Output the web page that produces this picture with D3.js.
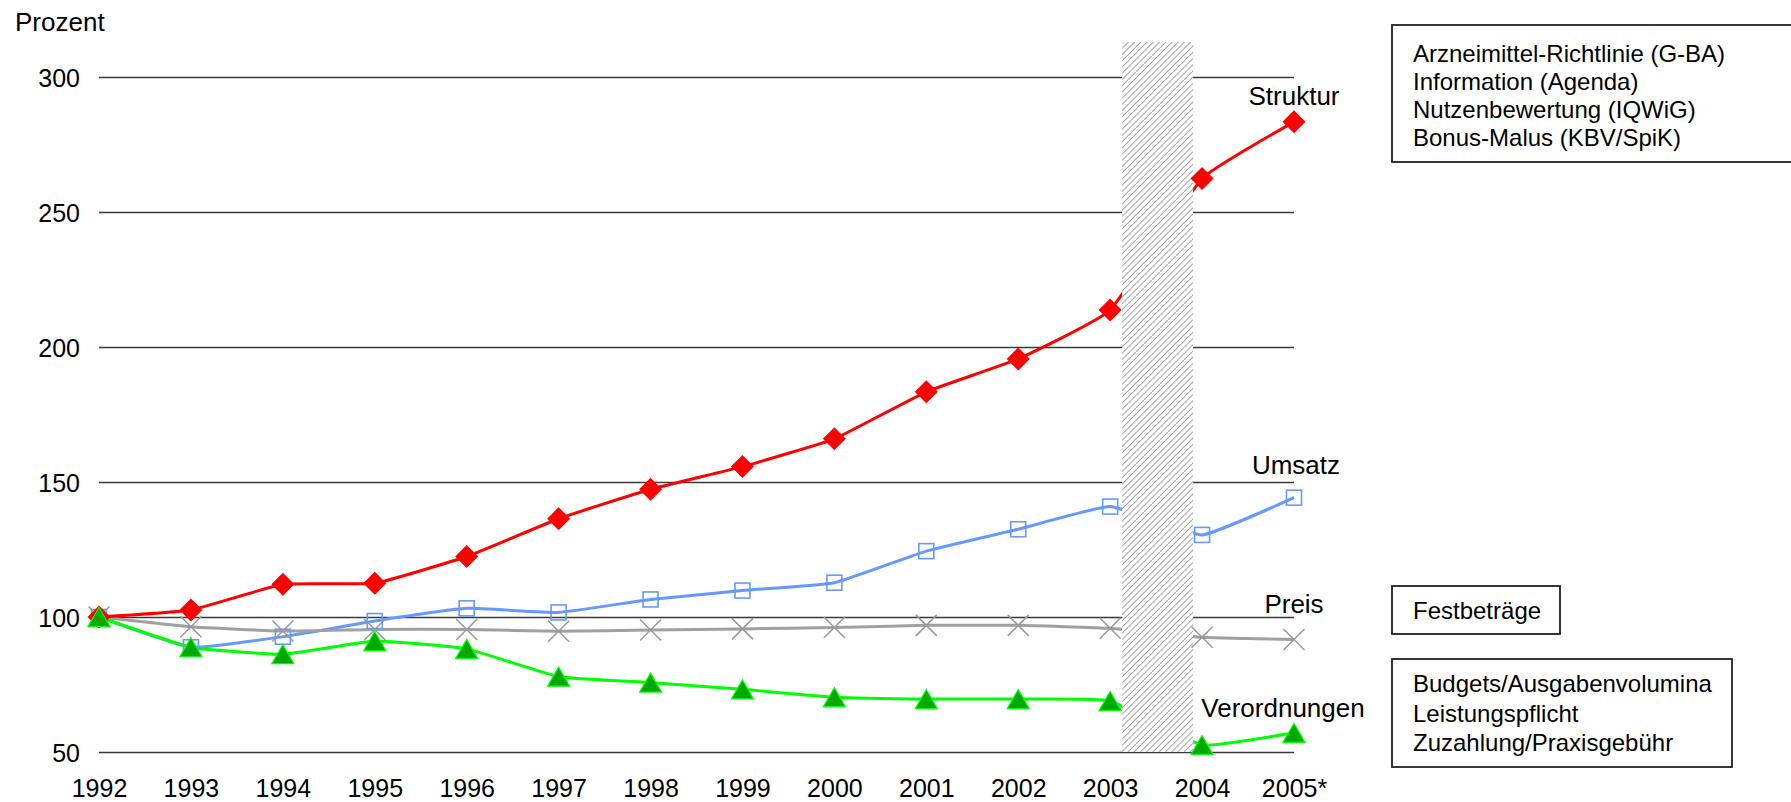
<!DOCTYPE html>
<html>
<head>
<meta charset="utf-8">
<script src="https://cdn.jsdelivr.net/npm/d3@7/dist/d3.min.js"></script>
<style>
  html, body { margin: 0; padding: 0; background: #fff; }
  svg { display: block; font-family: "Liberation Sans", Arial, sans-serif; }
</style>
</head>
<body>
<svg id="chart" width="1791" height="802"></svg>
<script>
// ---- data ----
const years = ["1992","1993","1994","1995","1996","1997","1998","1999","2000","2001","2002","2003","2004","2005*"];
const struktur     = [100, 102.6, 112.1, 112.5, 122.4, 136.4, 147.3, 155.7, 166.0, 183.4, 195.6, 213.7, 262.4, 283.4];
const umsatz       = [100, 88.8, 92.7, 98.5, 103.2, 101.7, 106.5, 109.8, 112.7, 124.4, 132.5, 140.9, 130.4, 144.2];
const preis        = [100, 96.4, 94.8, 95.4, 95.4, 94.7, 95.2, 95.6, 96.1, 96.9, 96.9, 95.8, 92.5, 91.7];
const verordnungen = [100, 88.8, 86.2, 91.1, 88.2, 77.9, 75.7, 73.2, 70.3, 69.6, 69.6, 68.9, 52.6, 57.1];
const yTicks = [50, 100, 150, 200, 250, 300];
const seriesNames = ["Struktur", "Umsatz", "Preis", "Verordnungen"];
const legendTop = ["Arzneimittel-Richtlinie (G-BA)", "Information (Agenda)", "Nutzenbewertung (IQWiG)", "Bonus-Malus (KBV/SpiK)"];
const legendMid = ["Festbeträge"];
const legendBottom = ["Budgets/Ausgabenvolumina", "Leistungspflicht", "Zuzahlung/Praxisgebühr"];
const yAxisTitle = "Prozent";
const shadedFrom = "2003", shadedTo = "2004";

// ---- layout ----
const svg = d3.select("#chart");
const X0 = 99, X1 = 1294, Y0 = 752, Y1 = 77;
const x = d3.scalePoint().domain(years).range([X0, X1]);
const y = d3.scaleLinear().domain([50, 300]).range([Y0, Y1]);

// hatch pattern
const defs = svg.append("defs");
const pat = defs.append("pattern").attr("id", "hatch")
  .attr("patternUnits", "userSpaceOnUse").attr("width", 4.4).attr("height", 4.4)
  .attr("patternTransform", "rotate(45)");
pat.append("rect").attr("width", 4.4).attr("height", 4.4).attr("fill", "#fff");
pat.append("line").attr("x1", 0).attr("y1", 0).attr("x2", 0).attr("y2", 4.4)
  .attr("stroke", "#a0a0a0").attr("stroke-width", 2);

// gridlines + y labels
const gy = svg.append("g").attr("transform", `translate(${X0},0)`)
  .call(d3.axisLeft(y).tickValues(yTicks).tickSize(-(X1 - X0)).tickPadding(19));
gy.select(".domain").remove();
gy.selectAll(".tick line").attr("stroke", "#3a3a3a").attr("stroke-width", 1.6);
gy.selectAll(".tick text").attr("font-size", 25).attr("fill", "#000")
  .attr("font-family", "Liberation Sans, Arial, sans-serif").attr("dy", "0.36em");

// x labels
const gx = svg.append("g").attr("transform", `translate(0,${Y0})`)
  .call(d3.axisBottom(x).tickSize(0).tickPadding(0));
gx.select(".domain").remove();
gx.selectAll(".tick text").attr("font-size", 25).attr("fill", "#000")
  .attr("font-family", "Liberation Sans, Arial, sans-serif").attr("y", 45).attr("dy", 0);

// y title
svg.append("text").attr("x", 15).attr("y", 31).attr("font-size", 26).text(yAxisTitle);

// series
const curve = d3.curveCardinal.tension(0.65);
const line = d3.line().x((d, i) => x(years[i])).y(d => y(d)).curve(curve);
const defsSeries = [
  { name: "Umsatz", data: umsatz, color: "#6699ff" },
  { name: "Preis", data: preis, color: "#a0a0a0" },
  { name: "Struktur", data: struktur, color: "#ff0000" },
  { name: "Verordnungen", data: verordnungen, color: "#00ff00" }
];
defsSeries.forEach(s => {
  svg.append("path").attr("d", line(s.data)).attr("fill", "none")
    .attr("stroke", s.color).attr("stroke-width", 3).attr("stroke-linejoin", "round");
});

// hatched area
const hx0 = x(shadedFrom) + 12, hx1 = x(shadedTo) - 9;
svg.append("rect").attr("x", hx0).attr("y", 42).attr("width", hx1 - hx0).attr("height", Y0 - 42)
  .attr("fill", "url(#hatch)");

// markers
const gm = svg.append("g");
// Umsatz squares
gm.selectAll(".sq").data(umsatz).join("rect")
  .attr("x", (d, i) => x(years[i]) - 7.5).attr("y", d => y(d) - 7.5)
  .attr("width", 15).attr("height", 15).attr("fill", "none")
  .attr("stroke", "#6699ff").attr("stroke-width", 1.6);
// Preis X
gm.selectAll(".xx").data(preis).join("path")
  .attr("d", (d, i) => { const cx = x(years[i]), cy = y(d), r = 10.5;
    return `M${cx - r},${cy - r}L${cx + r},${cy + r}M${cx - r},${cy + r}L${cx + r},${cy - r}`; })
  .attr("stroke", "#999").attr("stroke-width", 1.5).attr("fill", "none");
// Struktur diamonds
gm.selectAll(".dm").data(struktur).join("path")
  .attr("d", (d, i) => { const cx = x(years[i]), cy = y(d), r = 11.5;
    return `M${cx},${cy - r}L${cx + r},${cy}L${cx},${cy + r}L${cx - r},${cy}Z`; })
  .attr("fill", "#ff0000");
// Verordnungen triangles
gm.selectAll(".tr").data(verordnungen).join("path")
  .attr("d", (d, i) => { const cx = x(years[i]), cy = y(d), w = 11, h = 9.5;
    return `M${cx},${cy - h}L${cx + w},${cy + h}L${cx - w},${cy + h}Z`; })
  .attr("fill", "#00a800").attr("stroke", "#00ff00").attr("stroke-width", 1.2);

// series labels
const lastX = x(years[years.length - 1]);
const labelPos = { Struktur: [lastX, 105], Umsatz: [lastX + 2, 474], Preis: [lastX, 613], Verordnungen: [lastX - 11, 717] };
seriesNames.forEach(n => {
  svg.append("text").attr("x", labelPos[n][0]).attr("y", labelPos[n][1])
    .attr("text-anchor", "middle").attr("font-size", 26).text(n);
});

// legend boxes
function box(lines, bx, by, bw, bh, firstBase, lh) {
  svg.append("rect").attr("x", bx).attr("y", by).attr("width", bw).attr("height", bh)
    .attr("fill", "#fff").attr("stroke", "#222").attr("stroke-width", 1.8);
  lines.forEach((t, i) => {
    svg.append("text").attr("x", bx + 21).attr("y", firstBase + i * lh)
      .attr("font-size", 24).text(t);
  });
}
box(legendTop, 1392, 25, 402, 137, 62, 28);
box(legendMid, 1392, 586, 168, 48, 619, 28);
box(legendBottom, 1392, 659, 340, 108, 692, 29.5);
</script>
</body>
</html>
